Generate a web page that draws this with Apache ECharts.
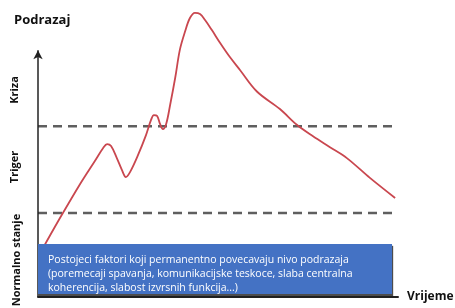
<!DOCTYPE html>
<html><head><meta charset="utf-8">
<script src="https://cdn.jsdelivr.net/npm/echarts@6/dist/echarts.min.js"></script>
<style>html,body{margin:0;padding:0;background:#fff}#c{width:455px;height:308px}</style>
</head><body><div id="c"></div>
<script>
// Arousal (podrazaj) curve over time (vrijeme)
const curveX = [1.1,6.1,11.7,15.8,18.1,19.2,20.3,21.9,23.3,24.4,25.6,27.8,30.0,31.4,32.2,33.1,33.9,34.7,35.6,36.7,38.1,39.4,40.8,42.2,43.6,45.0,46.4,48.3,50.6,53.3,56.1,60.8,67.2,71.9,76.4,81.1,85.8,92.2,99.2];
const curveY = [16.4,27.5,39.4,47.4,51.9,53.3,52.6,48.4,44.3,41.8,43.6,49.5,56.4,61.7,63.4,63.1,60.3,58.5,60.3,66.9,76.3,86.1,92.3,97.2,99.0,98.6,96.5,93.0,88.5,83.6,79.1,71.6,65.5,60.0,56.0,52.2,48.4,41.5,34.5];
const thresholdTrigger = 59.5;   // Kriza / Triger boundary
const thresholdNormal = 29.3;    // Triger / Normalno stanje boundary
const lineStartX = 0, lineEndX = 99;
const axisArrowTop = 86;
const levelLabels = ["Kriza", "Triger", "Normalno stanje"];
const yTitle = "Podrazaj", xTitle = "Vrijeme";
const boxLines = ["Postojeci faktori koji permanentno povecavaju nivo podrazaja",
  "(poremecaji spavanja, komunikacijske teskoce, slaba centralna",
  "koherencija, slabost izvrsnih funkcija...)"];

const FONT = '"Open Sans", "Noto Sans", sans-serif';
const chart = echarts.init(document.getElementById('c'));
const dash = {color:'#5f5f5f', width:2.5, type:[9,6]};
chart.setOption({
  animation:false,
  grid:{left:38, right:57, top:10, bottom:11},
  xAxis:{type:'value', min:0, max:100, axisLine:{show:true, onZero:false, lineStyle:{color:'#222', width:2}}, axisTick:{show:false}, axisLabel:{show:false}, splitLine:{show:false}},
  yAxis:{type:'value', min:0, max:100, axisLine:{show:false}, axisTick:{show:false}, axisLabel:{show:false}, splitLine:{show:false}},
  series:[
    {type:'line', data:[[lineStartX,thresholdTrigger],[lineEndX,thresholdTrigger]], symbol:'none', lineStyle:dash, z:2},
    {type:'line', data:[[lineStartX,thresholdNormal],[lineEndX,thresholdNormal]], symbol:'none', lineStyle:dash, z:2},
    {type:'line', data:curveX.map((x,i)=>[x,curveY[i]]), symbol:'none', smooth:0.35, lineStyle:{color:'#C9474F', width:1.8}, z:3,
     markLine:{silent:true, symbol:['none','arrow'], symbolSize:[7,9], label:{show:false},
       lineStyle:{color:'#222', width:1.5, type:'solid'},
       data:[[{coord:[0,0]},{coord:[0,axisArrowTop]}]]}}
  ],
  graphic:[
    {type:'rect', shape:{x:38, y:244, width:354, height:50}, style:{fill:'#4472C4', shadowColor:'rgba(0,0,0,0.7)', shadowOffsetX:1, shadowOffsetY:2, shadowBlur:1}, z:10},
    {type:'text', x:48, y:253, style:{text:boxLines.join('\n'), fill:'#fff', font:'10.5px '+FONT, lineHeight:14}, z:11},
    {type:'text', x:14, y:14, style:{text:yTitle, fill:'#111', font:'bold 13px '+FONT}},
    {type:'text', x:407, y:291, style:{text:xTitle, fill:'#111', font:'bold 12px '+FONT}},
    {type:'text', x:15, y:90, rotation:Math.PI/2, style:{text:levelLabels[0], fill:'#111', font:'bold 11px '+FONT, align:'center', verticalAlign:'middle'}},
    {type:'text', x:15, y:167, rotation:Math.PI/2, style:{text:levelLabels[1], fill:'#111', font:'bold 11px '+FONT, align:'center', verticalAlign:'middle'}},
    {type:'text', x:17, y:260, rotation:Math.PI/2, style:{text:levelLabels[2], fill:'#111', font:'bold 11px '+FONT, align:'center', verticalAlign:'middle'}}
  ]
});
</script></body></html>
